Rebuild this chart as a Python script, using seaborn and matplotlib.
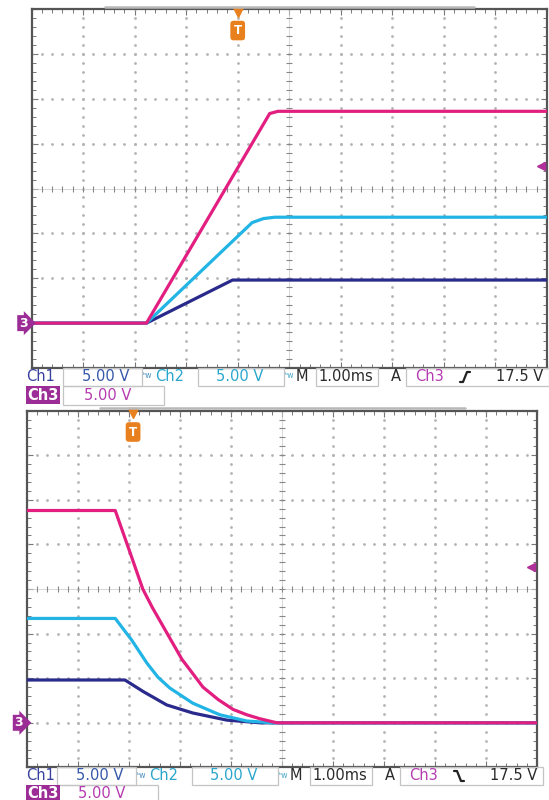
import numpy as np
import pandas as pd
import seaborn as sns
import matplotlib.pyplot as plt
from matplotlib.lines import Line2D
from matplotlib.patches import Rectangle

# time in ms (0 = centre of screen), voltage in V above channel ground
rise_t_ch3 = [-5.0, -2.77, -0.38, -0.22, 5.0]
rise_v_ch3 = [0.0, 0.0, 23.35, 23.6, 23.6]
rise_t_ch2 = [-5.0, -2.77, -0.72, -0.50, -0.28, 5.0]
rise_v_ch2 = [0.0, 0.0, 11.2, 11.65, 11.8, 11.8]
rise_t_ch1 = [-5.0, -2.77, -1.10, 5.0]
rise_v_ch1 = [0.0, 0.0, 4.8, 4.8]

fall_t_ch3 = [-5.0, -3.27, -2.98, -2.73, -2.54, -2.25, -1.96, -1.76, -1.55, -1.25, -0.96, -0.69, -0.43, -0.10, 5.0]
fall_v_ch3 = [23.8, 23.8, 19.1, 15.0, 12.9, 10.0, 7.1, 5.6, 4.0, 2.6, 1.5, 0.9, 0.45, 0.0, 0.0]
fall_t_ch2 = [-5.0, -3.27, -2.95, -2.65, -2.43, -2.20, -1.75, -1.22, -0.69, -0.18, 5.0]
fall_v_ch2 = [11.7, 11.7, 9.3, 6.7, 5.1, 3.9, 2.2, 0.9, 0.2, 0.0, 0.0]
fall_t_ch1 = [-5.0, -3.08, -2.72, -2.26, -1.75, -1.08, -0.43, 5.0]
fall_v_ch1 = [4.8, 4.8, 3.5, 2.0, 1.1, 0.3, 0.0, 0.0]

trig_level = 17.5
trig_time_rise = -1.0
trig_time_fall = -2.92

colors = {'Ch1': '#2a2a8c', 'Ch2': '#22b4e4', 'Ch3': '#e21f80'}
W, H = 549, 800


def make_df(tc1, vc1, tc2, vc2, tc3, vc3):
    parts = []
    for ch, t, v in [('Ch1', tc1, vc1), ('Ch2', tc2, vc2), ('Ch3', tc3, vc3)]:
        parts.append(pd.DataFrame({'t': t, 'v': v, 'ch': ch}))
    return pd.concat(parts, ignore_index=True)


df_rise = make_df(rise_t_ch1, rise_v_ch1, rise_t_ch2, rise_v_ch2, rise_t_ch3, rise_v_ch3)
df_fall = make_df(fall_t_ch1, fall_v_ch1, fall_t_ch2, fall_v_ch2, fall_t_ch3, fall_v_ch3)

sns.set_style('white')
plt.rcParams['font.family'] = ['DejaVu Sans']

fig = plt.figure(figsize=(W / 100, H / 100), dpi=100)


def px_axes(x0, y0, x1, y1):
    return fig.add_axes([x0 / W, 1 - y1 / H, (x1 - x0) / W, (y1 - y0) / H])


def ftext(x, y, s, color, size=10.5, **kw):
    fig.text(x / W, 1 - y / H, s, color=color, fontsize=size, va='center', ha='left', **kw)


def fbox(x0, y0, x1, y1):
    fig.patches.append(Rectangle((x0 / W, 1 - y1 / H), (x1 - x0) / W, (y1 - y0) / H,
                                 transform=fig.transFigure, fill=False,
                                 edgecolor='#c4c4c4', linewidth=0.9))


def fline(xs, ys, color, lw):
    fig.lines.append(Line2D([x / W for x in xs], [1 - y / H for y in ys],
                            transform=fig.transFigure, color=color, lw=lw))


def graticule(ax):
    ax.set_xlim(-5, 5)
    ax.set_ylim(-5, 35)
    gcol = '#b4b4b4'
    fine_t = np.arange(-5, 5.01, 0.2)
    fine_v = np.arange(-5, 35.01, 1.0)
    for xg in range(-4, 5):
        if xg == 0:
            continue
        ax.plot(np.full_like(fine_v, xg), fine_v, ls='none', marker='o', ms=1.0, color=gcol, zorder=1)
    for yg in range(0, 35, 5):
        if yg == 15:
            continue
        ax.plot(fine_t, np.full_like(fine_t, yg), ls='none', marker='o', ms=1.0, color=gcol, zorder=1)
    # centre cross with small ticks
    ax.axvline(0, color='#c8c8c8', lw=0.5, zorder=1)
    ax.axhline(15, color='#c8c8c8', lw=0.5, zorder=1)
    ax.plot(np.zeros_like(fine_v), fine_v, ls='none', marker='_', ms=5, mew=0.8, color='#888888', zorder=1)
    ax.plot(fine_t, np.full_like(fine_t, 15), ls='none', marker='|', ms=5, mew=0.8, color='#888888', zorder=1)
    ax.set_xticks(np.arange(-5, 5.01, 1))
    ax.set_xticks(fine_t, minor=True)
    ax.set_yticks(np.arange(-5, 35.01, 5))
    ax.set_yticks(fine_v, minor=True)
    ax.tick_params(which='both', direction='in', top=True, right=True, bottom=True, left=True,
                   labelbottom=False, labelleft=False, color='#777777')
    ax.tick_params(which='major', length=4, width=0.8)
    ax.tick_params(which='minor', length=3, width=0.7)
    for sp in ax.spines.values():
        sp.set_color('#555555')
        sp.set_linewidth(1.6)
    ax.set_xlabel('')
    ax.set_ylabel('')


def draw_panel(ax, df, trig_t):
    graticule(ax)
    sns.lineplot(data=df, x='t', y='v', hue='ch', hue_order=['Ch1', 'Ch2', 'Ch3'],
                 palette=colors, estimator=None, sort=False, legend=False,
                 linewidth=2.3, ax=ax, zorder=3)
    ax.set_xlabel('')
    ax.set_ylabel('')
    # trigger position marker
    ax.plot([trig_t], [34.7], marker='v', ms=7, color='#e8801e', clip_on=False, zorder=5)
    ax.text(trig_t, 32.6, 'T', color='white', fontsize=8.5, fontweight='bold', ha='center', va='center',
            bbox=dict(boxstyle='round,pad=0.28', fc='#e8801e', ec='none'), zorder=5)
    # trigger level marker
    ax.plot([4.88], [trig_level], marker='<', ms=5.5, color='#b0309a', zorder=5)
    # ground marker for Ch3
    ax.text(-5.08, 0, '3', color='white', fontsize=9, fontweight='bold', ha='right', va='center',
            bbox=dict(boxstyle='rarrow,pad=0.12', fc='#9c2c96', ec='none'), zorder=5, clip_on=False)


def readout(y1, y2, dx, rising):
    blue = '#37409c'
    blue2 = '#3558a8'
    cyan = '#2aa6cc'
    mag = '#b43cb0'
    dark = '#2a2a2a'
    ytop = y1 - 9
    ymid = y1 + 9
    ybot = y2 + 10
    fbox(63 + dx, ytop, 142 + dx, ymid)
    fbox(198 + dx, ytop, 284 + dx, ymid)
    fbox(316 + dx, ytop, 378 + dx, ymid)
    fbox(406 + dx, ytop, 549 + dx, ymid)
    fbox(63 + dx, ymid, 164 + dx, ybot)
    ftext(26, y1, 'Ch1', blue)
    ftext(82 + dx, y1, '5.00 V', blue2)
    ftext(143 + dx, y1 - 1, 'ᵇw', '#4a8fc0', size=5.5)
    ftext(155 + dx, y1, 'Ch2', cyan)
    ftext(216 + dx, y1, '5.00 V', cyan)
    ftext(285 + dx, y1 - 1, 'ᵇw', '#4aa8cc', size=5.5)
    ftext(296 + dx, y1, 'M', dark)
    ftext(318 + dx, y1, '1.00ms', dark)
    ftext(391 + dx, y1, 'A', dark)
    ftext(415 + dx, y1, 'Ch3', mag)
    ftext(496 + dx, y1, '17.5 V', dark)
    # edge symbol
    ex = 465 + dx
    xs = [ex - 5, ex - 2, ex + 2, ex + 5]
    if rising:
        ys = [y1 + 5, y1 + 5, y1 - 5, y1 - 5]
    else:
        ys = [y1 - 5, y1 - 5, y1 + 5, y1 + 5]
    fline(xs, ys, '#222222', 1.6)
    ftext(27, y2, 'Ch3', 'white', fontweight='bold',
          bbox=dict(boxstyle='square,pad=0.1', fc='#9c2c96', ec='none'))
    ftext(84 + dx, y2, '5.00 V', mag)


ax1 = px_axes(31.5, 9, 547, 368)
draw_panel(ax1, df_rise, trig_time_rise)
ax2 = px_axes(27, 410.6, 537, 767.4)
draw_panel(ax2, df_fall, trig_time_fall)

# record-length bars above each screen
fline([105, 474], [6.5, 6.5], '#b8b8b8', 1.8)
fline([100, 465], [408, 408], '#b8b8b8', 1.8)

readout(377, 395, 0, True)
readout(776, 794, -6, False)

fig.savefig('out.png', dpi=100)
